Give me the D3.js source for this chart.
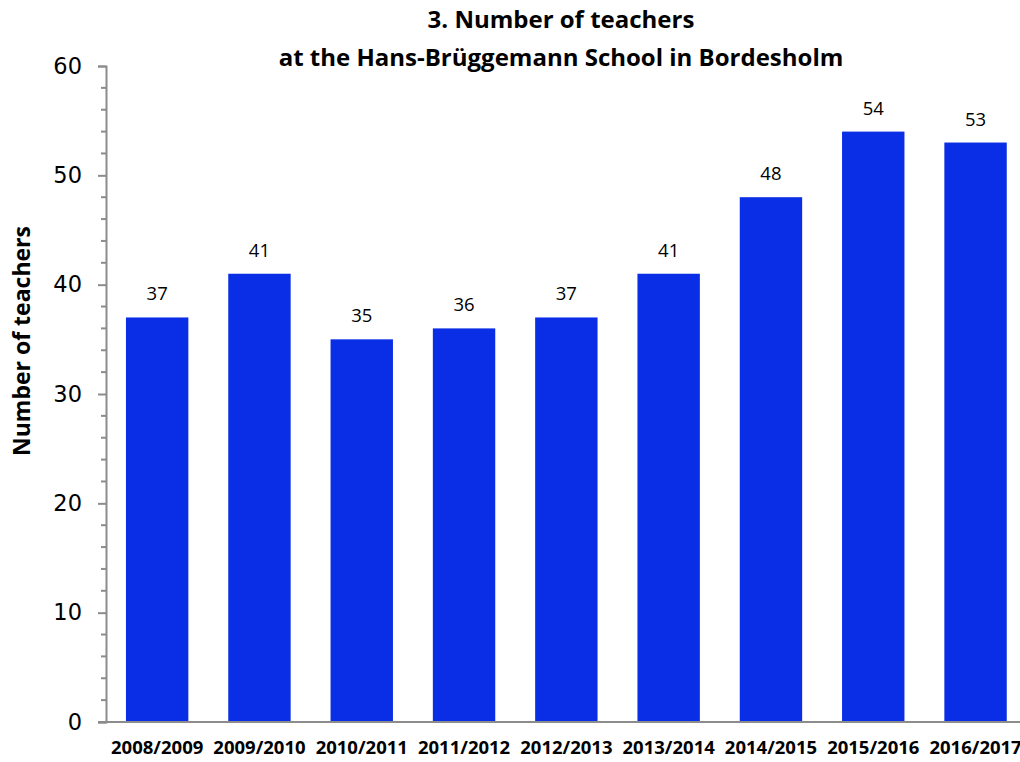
<!DOCTYPE html>
<html>
<head>
<meta charset="utf-8">
<script src="https://cdn.jsdelivr.net/npm/d3@7"></script>
<style>
  body { margin: 0; background: #fff; }
  svg { display: block; }
</style>
</head>
<body>
<svg></svg>
<script>
var width = 1020,
    height = 762;
var svg = d3.select("svg")
    .attr("width", width)
    .attr("height", height);

// data
var years = ["2008/2009", "2009/2010", "2010/2011", "2011/2012", "2012/2013",
             "2013/2014", "2014/2015", "2015/2016", "2016/2017"];
var teachers = [37, 41, 35, 36, 37, 41, 48, 54, 53];
var yTicks = [0, 10, 20, 30, 40, 50, 60];
var titleLines = ["3. Number of teachers", "at the Hans-Brüggemann School in Bordesholm"];

// note: "top" is taken by window.top, so plot edges get their own names
var plotLeft = 106, plotTop = 66, plotBottom = 722;
var step = 102.3;

var x = d3.scaleBand()
    .domain(years)
    .range([plotLeft, plotLeft + step * years.length])
    .paddingInner(0.39)
    .paddingOuter(0.195);
var y = d3.scaleLinear()
    .domain([0, 60])
    .range([plotBottom, plotTop]);

var axisColor = "#8c8c8c";

// bars
svg.selectAll("rect.bar")
    .data(teachers)
    .enter()
    .append("rect")
    .attr("class", "bar")
    .attr("x", (d, i) => x(years[i]))
    .attr("y", d => y(d))
    .attr("width", x.bandwidth())
    .attr("height", d => y(0) - y(d))
    .attr("fill", "#0a2de6");

// value labels
svg.selectAll("text.val")
    .data(teachers)
    .enter()
    .append("text")
    .attr("class", "val")
    .attr("x", (d, i) => x(years[i]) + x.bandwidth() / 2)
    .attr("y", d => y(d) - 17)
    .attr("text-anchor", "middle")
    .style("font-family", "'Open Sans', sans-serif")
    .style("font-size", "18.5px")
    .attr("fill", "#000")
    .text(d => d);

// y axis (major + minor ticks)
var yAxis = svg.append("g")
    .attr("transform", "translate(" + plotLeft + ",0)")
    .call(d3.axisLeft(y).tickValues(yTicks).tickSize(8).tickPadding(16));
yAxis.select(".domain").attr("stroke", axisColor).attr("stroke-width", 2);
yAxis.selectAll(".tick line").attr("stroke", axisColor).attr("stroke-width", 2);
yAxis.selectAll(".tick text")
    .style("font-family", "'DejaVu Sans', sans-serif")
    .style("font-size", "22.5px")
    .attr("fill", "#000");

var minor = d3.range(0, 61, 2).filter(v => v % 10 !== 0);
svg.selectAll("line.minor")
    .data(minor)
    .enter()
    .append("line")
    .attr("class", "minor")
    .attr("x1", plotLeft - 5)
    .attr("x2", plotLeft)
    .attr("y1", d => y(d))
    .attr("y2", d => y(d))
    .attr("stroke", axisColor)
    .attr("stroke-width", 2);

// x axis
var xAxis = svg.append("g")
    .attr("transform", "translate(0," + plotBottom + ")")
    .call(d3.axisBottom(x).tickSize(0).tickPadding(19));
xAxis.select(".domain").remove();
xAxis.selectAll(".tick text")
    .style("font-family", "'Open Sans', sans-serif")
    .style("font-weight", "bold")
    .style("font-size", "18.5px")
    .attr("fill", "#000");
svg.append("line")
    .attr("x1", plotLeft - 8)
    .attr("x2", width)
    .attr("y1", y(0))
    .attr("y2", y(0))
    .attr("stroke", axisColor)
    .attr("stroke-width", 2);

// y axis title
svg.append("text")
    .attr("transform", "translate(30,341) rotate(-90)")
    .attr("text-anchor", "middle")
    .style("font-family", "'Open Sans', sans-serif")
    .style("font-weight", "bold")
    .style("font-size", "23px")
    .text("Number of teachers");

// chart title
svg.selectAll("text.title")
    .data(titleLines)
    .enter()
    .append("text")
    .attr("class", "title")
    .attr("x", 561)
    .attr("y", (d, i) => 28 + i * 38)
    .attr("text-anchor", "middle")
    .style("font-family", "'Open Sans', sans-serif")
    .style("font-weight", "bold")
    .style("font-size", "24px")
    .text(d => d);
</script>
</body>
</html>
